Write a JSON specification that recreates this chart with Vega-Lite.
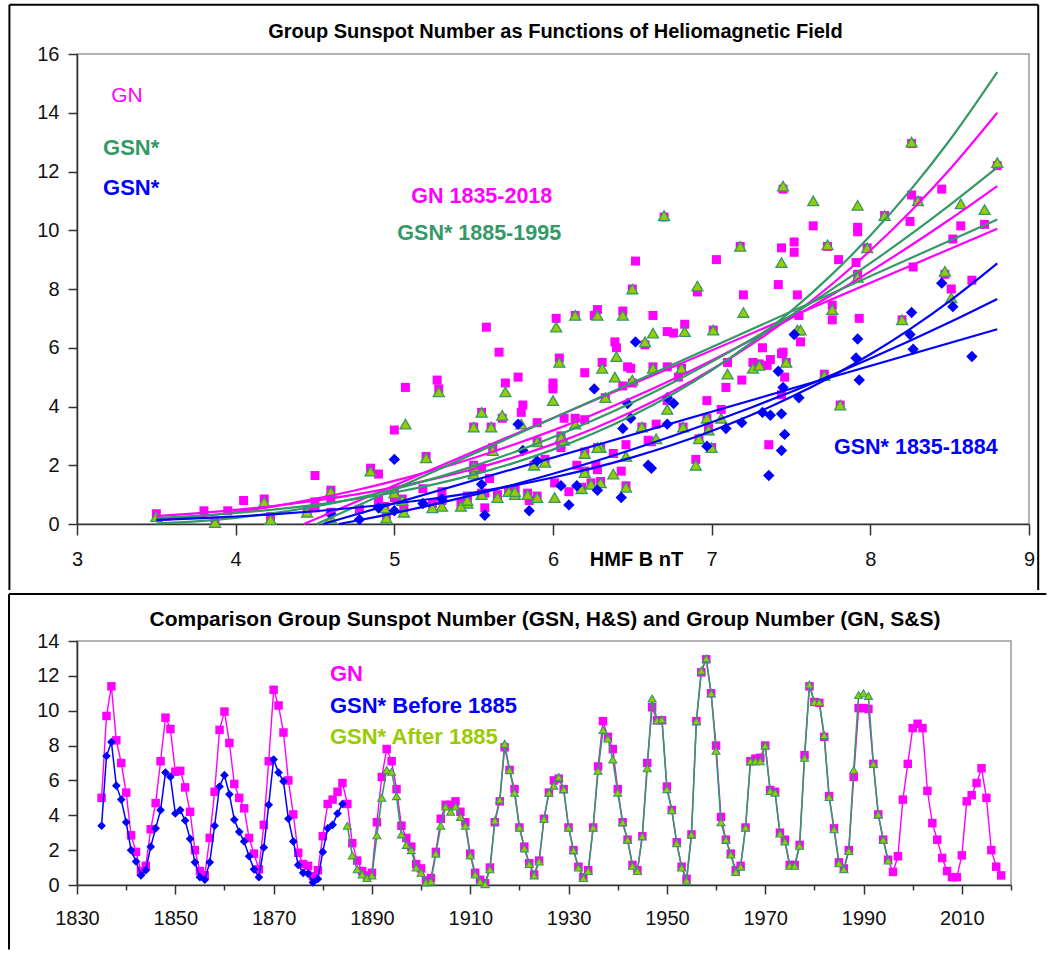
{
  "$schema": "https://vega.github.io/schema/vega-lite/v6.json",
  "padding": {"left": 7, "top": 2, "right": 0, "bottom": 0},
  "spacing": 0,
  "config": {
    "font": "Liberation Sans",
    "view": {"stroke": "#9a9a9a", "strokeWidth": 1.5},
    "axis": {"grid": false, "domainColor": "#333333", "domainWidth": 1.6, "tickColor": "#333333", "tickWidth": 1.5, "labelColor": "#111111", "labelFontSize": 20, "labelFont": "Liberation Sans", "titleColor": "#000000", "titleFont": "Liberation Sans", "labelOverlap": false},
    "text": {"font": "Liberation Sans"}
  },
  "datasets": {
    "years": [
      {"Year":1835,"B":5.78,"GN":5.0,"GSNb":3.4},
      {"Year":1836,"B":8.52,"GN":9.7,"GSNb":7.4},
      {"Year":1837,"B":8.45,"GN":11.4,"GSNb":8.2},
      {"Year":1838,"B":8.64,"GN":8.3,"GSNb":5.7},
      {"Year":1839,"B":7.93,"GN":7.0,"GSNb":4.9},
      {"Year":1840,"B":6.49,"GN":5.3,"GSNb":3.6},
      {"Year":1841,"B":6.6,"GN":2.85,"GSNb":2.0},
      {"Year":1842,"B":5.55,"GN":1.9,"GSNb":1.35},
      {"Year":1843,"B":4.9,"GN":0.8,"GSNb":0.55},
      {"Year":1844,"B":5.3,"GN":1.1,"GSNb":0.85},
      {"Year":1845,"B":5.0,"GN":3.2,"GSNb":2.2},
      {"Year":1846,"B":6.44,"GN":4.7,"GSNb":3.25},
      {"Year":1847,"B":7.55,"GN":7.1,"GSNb":4.3},
      {"Year":1848,"B":7.52,"GN":9.6,"GSNb":6.45},
      {"Year":1849,"B":6.52,"GN":8.95,"GSNb":6.2},
      {"Year":1850,"B":6.76,"GN":6.5,"GSNb":4.1},
      {"Year":1851,"B":6.72,"GN":6.55,"GSNb":4.3},
      {"Year":1852,"B":7.37,"GN":5.6,"GSNb":3.7},
      {"Year":1853,"B":6.97,"GN":4.2,"GSNb":2.65},
      {"Year":1854,"B":6.15,"GN":2.0,"GSNb":1.3},
      {"Year":1855,"B":5.85,"GN":0.8,"GSNb":0.45},
      {"Year":1856,"B":5.57,"GN":0.55,"GSNb":0.3},
      {"Year":1857,"B":6.05,"GN":2.7,"GSNb":1.3},
      {"Year":1858,"B":6.72,"GN":5.35,"GSNb":3.4},
      {"Year":1859,"B":7.91,"GN":8.9,"GSNb":5.65},
      {"Year":1860,"B":7.92,"GN":9.95,"GSNb":6.3},
      {"Year":1861,"B":7.42,"GN":8.15,"GSNb":5.2},
      {"Year":1862,"B":7.44,"GN":5.8,"GSNb":3.75},
      {"Year":1863,"B":7.46,"GN":5.0,"GSNb":3.05},
      {"Year":1864,"B":7.44,"GN":4.4,"GSNb":2.5},
      {"Year":1865,"B":7.36,"GN":2.7,"GSNb":1.65},
      {"Year":1866,"B":6.43,"GN":1.8,"GSNb":0.9},
      {"Year":1867,"B":5.0,"GN":0.9,"GSNb":0.45},
      {"Year":1868,"B":5.9,"GN":3.45,"GSNb":2.15},
      {"Year":1869,"B":6.26,"GN":7.1,"GSNb":4.6},
      {"Year":1870,"B":8.26,"GN":11.2,"GSNb":7.2},
      {"Year":1871,"B":8.25,"GN":10.3,"GSNb":6.45},
      {"Year":1872,"B":8.27,"GN":8.75,"GSNb":5.95},
      {"Year":1873,"B":7.32,"GN":6.0,"GSNb":3.8},
      {"Year":1874,"B":5.81,"GN":4.05,"GSNb":2.5},
      {"Year":1875,"B":6.28,"GN":1.85,"GSNb":1.15},
      {"Year":1876,"B":5.18,"GN":1.2,"GSNb":0.7},
      {"Year":1877,"B":6.1,"GN":1.1,"GSNb":0.65},
      {"Year":1878,"B":4.78,"GN":0.5,"GSNb":0.15},
      {"Year":1879,"B":4.6,"GN":0.85,"GSNb":0.35},
      {"Year":1880,"B":6.62,"GN":2.8,"GSNb":1.9},
      {"Year":1881,"B":7.09,"GN":4.65,"GSNb":3.25},
      {"Year":1882,"B":7.19,"GN":4.9,"GSNb":3.45},
      {"Year":1883,"B":6.47,"GN":5.35,"GSNb":4.1},
      {"Year":1884,"B":7.45,"GN":5.85,"GSNb":4.65},
      {"Year":1885,"B":5.07,"GN":4.65,"GSNa":3.4},
      {"Year":1886,"B":6.38,"GN":2.4,"GSNa":1.7},
      {"Year":1887,"B":6.01,"GN":1.4,"GSNa":0.9},
      {"Year":1888,"B":5.3,"GN":0.8,"GSNa":0.6},
      {"Year":1889,"B":5.06,"GN":0.55,"GSNa":0.4},
      {"Year":1890,"B":5.24,"GN":0.7,"GSNa":0.55},
      {"Year":1891,"B":6.07,"GN":3.6,"GSNa":2.85},
      {"Year":1892,"B":6.39,"GN":6.2,"GSNa":5.0},
      {"Year":1893,"B":7.54,"GN":7.8,"GSNa":6.6},
      {"Year":1894,"B":6.63,"GN":7.1,"GSNa":6.5},
      {"Year":1895,"B":7.1,"GN":5.5,"GSNa":5.1},
      {"Year":1896,"B":6.65,"GN":3.4,"GSNa":2.9},
      {"Year":1897,"B":6.46,"GN":2.7,"GSNa":2.3},
      {"Year":1898,"B":6.9,"GN":2.2,"GSNa":2.0},
      {"Year":1899,"B":5.76,"GN":1.2,"GSNa":1.0},
      {"Year":1900,"B":5.46,"GN":0.95,"GSNa":0.7},
      {"Year":1901,"B":4.22,"GN":0.25,"GSNa":0.15},
      {"Year":1902,"B":4.6,"GN":0.4,"GSNa":0.2},
      {"Year":1903,"B":4.85,"GN":1.9,"GSNa":1.8},
      {"Year":1904,"B":5.8,"GN":3.8,"GSNa":3.4},
      {"Year":1905,"B":5.28,"GN":4.6,"GSNa":4.5},
      {"Year":1906,"B":6.0,"GN":4.6,"GSNa":4.2},
      {"Year":1907,"B":5.7,"GN":4.8,"GSNa":4.5},
      {"Year":1908,"B":6.72,"GN":4.2,"GSNa":3.9},
      {"Year":1909,"B":6.14,"GN":3.6,"GSNa":3.4},
      {"Year":1910,"B":5.5,"GN":1.8,"GSNa":1.7},
      {"Year":1911,"B":5.42,"GN":0.7,"GSNa":0.6},
      {"Year":1912,"B":4.95,"GN":0.3,"GSNa":0.2},
      {"Year":1913,"B":3.87,"GN":0.1,"GSNa":0.05},
      {"Year":1914,"B":5.65,"GN":1.0,"GSNa":0.9},
      {"Year":1915,"B":5.68,"GN":3.6,"GSNa":3.7},
      {"Year":1916,"B":6.5,"GN":4.8,"GSNa":4.9},
      {"Year":1917,"B":6.91,"GN":7.9,"GSNa":8.1},
      {"Year":1918,"B":7.01,"GN":6.6,"GSNa":6.6},
      {"Year":1919,"B":6.31,"GN":5.5,"GSNa":5.3},
      {"Year":1920,"B":5.5,"GN":3.3,"GSNa":3.3},
      {"Year":1921,"B":5.95,"GN":2.2,"GSNa":2.1},
      {"Year":1922,"B":6.18,"GN":1.25,"GSNa":1.2},
      {"Year":1923,"B":4.94,"GN":0.6,"GSNa":0.55},
      {"Year":1924,"B":6.24,"GN":1.4,"GSNa":1.35},
      {"Year":1925,"B":5.55,"GN":3.8,"GSNa":3.8},
      {"Year":1926,"B":6.81,"GN":5.3,"GSNa":5.3},
      {"Year":1927,"B":6.4,"GN":6.0,"GSNa":5.7},
      {"Year":1928,"B":6.58,"GN":6.1,"GSNa":6.2},
      {"Year":1929,"B":7.47,"GN":5.5,"GSNa":5.5},
      {"Year":1930,"B":5.61,"GN":3.3,"GSNa":3.3},
      {"Year":1931,"B":5.88,"GN":2.0,"GSNa":2.0},
      {"Year":1932,"B":5.84,"GN":1.05,"GSNa":1.0},
      {"Year":1933,"B":4.45,"GN":0.45,"GSNa":0.4},
      {"Year":1934,"B":5.46,"GN":0.85,"GSNa":0.8},
      {"Year":1935,"B":6.82,"GN":3.3,"GSNa":3.3},
      {"Year":1936,"B":6.83,"GN":6.8,"GSNa":6.55},
      {"Year":1937,"B":7.44,"GN":9.4,"GSNa":8.9},
      {"Year":1938,"B":7.92,"GN":8.5,"GSNa":8.4},
      {"Year":1939,"B":7.2,"GN":7.8,"GSNa":7.2},
      {"Year":1940,"B":7.26,"GN":5.5,"GSNa":5.3},
      {"Year":1941,"B":6.97,"GN":3.6,"GSNa":3.6},
      {"Year":1942,"B":6.3,"GN":2.6,"GSNa":2.6},
      {"Year":1943,"B":5.72,"GN":1.15,"GSNa":1.1},
      {"Year":1944,"B":5.05,"GN":0.85,"GSNa":0.8},
      {"Year":1945,"B":5.9,"GN":2.8,"GSNa":2.8},
      {"Year":1946,"B":6.02,"GN":7.0,"GSNa":6.7},
      {"Year":1947,"B":8.72,"GN":10.2,"GSNa":10.7},
      {"Year":1948,"B":7.18,"GN":9.45,"GSNa":9.45},
      {"Year":1949,"B":7.73,"GN":9.45,"GSNa":9.5},
      {"Year":1950,"B":6.04,"GN":5.65,"GSNa":5.5},
      {"Year":1951,"B":6.33,"GN":4.3,"GSNa":4.3},
      {"Year":1952,"B":6.2,"GN":2.45,"GSNa":2.4},
      {"Year":1953,"B":5.55,"GN":1.05,"GSNa":1.0},
      {"Year":1954,"B":3.5,"GN":0.35,"GSNa":0.25},
      {"Year":1955,"B":6.92,"GN":2.9,"GSNa":2.9},
      {"Year":1956,"B":7.98,"GN":9.4,"GSNa":9.4},
      {"Year":1957,"B":8.8,"GN":12.2,"GSNa":12.3},
      {"Year":1958,"B":8.26,"GN":12.95,"GSNa":13.0},
      {"Year":1959,"B":8.3,"GN":11.0,"GSNa":11.0},
      {"Year":1960,"B":8.51,"GN":8.0,"GSNa":7.7},
      {"Year":1961,"B":7.06,"GN":3.9,"GSNa":3.6},
      {"Year":1962,"B":6.28,"GN":2.6,"GSNa":2.6},
      {"Year":1963,"B":6.2,"GN":1.8,"GSNa":1.75},
      {"Year":1964,"B":4.18,"GN":0.85,"GSNa":0.75},
      {"Year":1965,"B":5.0,"GN":1.1,"GSNa":1.05},
      {"Year":1966,"B":6.56,"GN":3.3,"GSNa":3.3},
      {"Year":1967,"B":6.14,"GN":7.1,"GSNa":7.1},
      {"Year":1968,"B":6.44,"GN":7.25,"GSNa":7.1},
      {"Year":1969,"B":6.28,"GN":7.3,"GSNa":7.1},
      {"Year":1970,"B":6.5,"GN":8.0,"GSNa":8.0},
      {"Year":1971,"B":7.3,"GN":5.45,"GSNa":5.4},
      {"Year":1972,"B":6.63,"GN":5.35,"GSNa":5.3},
      {"Year":1973,"B":6.05,"GN":3.0,"GSNa":2.95},
      {"Year":1974,"B":5.62,"GN":2.6,"GSNa":2.5},
      {"Year":1975,"B":5.76,"GN":1.15,"GSNa":1.1},
      {"Year":1976,"B":4.6,"GN":1.15,"GSNa":1.1},
      {"Year":1977,"B":5.2,"GN":2.3,"GSNa":2.25},
      {"Year":1978,"B":7.76,"GN":7.45,"GSNa":7.3},
      {"Year":1979,"B":7.45,"GN":11.4,"GSNa":11.5},
      {"Year":1980,"B":8.09,"GN":10.5,"GSNa":10.5},
      {"Year":1981,"B":6.7,"GN":10.45,"GSNa":10.5},
      {"Year":1982,"B":8.47,"GN":8.5,"GSNa":8.6},
      {"Year":1983,"B":7.71,"GN":5.1,"GSNa":5.05},
      {"Year":1984,"B":6.98,"GN":3.25,"GSNa":3.2},
      {"Year":1985,"B":6.46,"GN":1.3,"GSNa":1.25},
      {"Year":1986,"B":5.9,"GN":0.95,"GSNa":0.9},
      {"Year":1987,"B":5.5,"GN":2.0,"GSNa":1.95},
      {"Year":1988,"B":7.56,"GN":6.2,"GSNa":6.6},
      {"Year":1989,"B":8.57,"GN":10.15,"GSNa":10.9},
      {"Year":1990,"B":7.64,"GN":10.15,"GSNa":11.0},
      {"Year":1991,"B":7.92,"GN":10.1,"GSNa":10.85},
      {"Year":1992,"B":8.2,"GN":6.95,"GSNa":6.95},
      {"Year":1993,"B":7.81,"GN":4.05,"GSNa":4.05},
      {"Year":1994,"B":7.0,"GN":2.6,"GSNa":2.6},
      {"Year":1995,"B":6.3,"GN":1.45,"GSNa":1.4},
      {"Year":1996,"B":4.5,"GN":0.75},
      {"Year":1997,"B":4.5,"GN":1.65},
      {"Year":1998,"B":5.27,"GN":4.9},
      {"Year":1999,"B":7.76,"GN":6.95},
      {"Year":2000,"B":7.03,"GN":9.0},
      {"Year":2001,"B":7.52,"GN":9.25},
      {"Year":2002,"B":7.8,"GN":9.0},
      {"Year":2003,"B":7.35,"GN":5.4},
      {"Year":2004,"B":6.2,"GN":3.55},
      {"Year":2005,"B":6.05,"GN":2.6},
      {"Year":2006,"B":5.6,"GN":1.55},
      {"Year":2007,"B":4.05,"GN":0.8},
      {"Year":2008,"B":3.8,"GN":0.45},
      {"Year":2009,"B":3.95,"GN":0.45},
      {"Year":2010,"B":4.9,"GN":1.7},
      {"Year":2011,"B":6.0,"GN":4.8},
      {"Year":2012,"B":6.2,"GN":5.15},
      {"Year":2013,"B":5.66,"GN":5.85},
      {"Year":2014,"B":5.58,"GN":6.7},
      {"Year":2015,"B":6.79,"GN":5.0},
      {"Year":2016,"B":6.27,"GN":2.0},
      {"Year":2017,"B":5.57,"GN":1.05},
      {"Year":2018,"B":4.5,"GN":0.55}
    ],
    "fits": [
      {"fit":"GN power","series":"GN","B":3.5,"value":0.271},{"fit":"GN power","series":"GN","B":3.75,"value":0.363},{"fit":"GN power","series":"GN","B":4,"value":0.479},{"fit":"GN power","series":"GN","B":4.25,"value":0.621},{"fit":"GN power","series":"GN","B":4.5,"value":0.793},{"fit":"GN power","series":"GN","B":4.75,"value":1.0},{"fit":"GN power","series":"GN","B":5,"value":1.245},{"fit":"GN power","series":"GN","B":5.25,"value":1.534},{"fit":"GN power","series":"GN","B":5.5,"value":1.873},{"fit":"GN power","series":"GN","B":5.75,"value":2.265},{"fit":"GN power","series":"GN","B":6,"value":2.718},{"fit":"GN power","series":"GN","B":6.25,"value":3.237},{"fit":"GN power","series":"GN","B":6.5,"value":3.828},{"fit":"GN power","series":"GN","B":6.75,"value":4.499},{"fit":"GN power","series":"GN","B":7,"value":5.258},{"fit":"GN power","series":"GN","B":7.25,"value":6.109},{"fit":"GN power","series":"GN","B":7.5,"value":7.063},{"fit":"GN power","series":"GN","B":7.75,"value":8.127},{"fit":"GN power","series":"GN","B":8,"value":9.31},{"fit":"GN power","series":"GN","B":8.25,"value":10.621},{"fit":"GN power","series":"GN","B":8.5,"value":12.069},{"fit":"GN power","series":"GN","B":8.8,"value":14.0},
      {"fit":"GN poly","series":"GN","B":3.5,"value":0.124},{"fit":"GN poly","series":"GN","B":3.75,"value":0.245},{"fit":"GN poly","series":"GN","B":4,"value":0.408},{"fit":"GN poly","series":"GN","B":4.25,"value":0.611},{"fit":"GN poly","series":"GN","B":4.5,"value":0.856},{"fit":"GN poly","series":"GN","B":4.75,"value":1.142},{"fit":"GN poly","series":"GN","B":5,"value":1.469},{"fit":"GN poly","series":"GN","B":5.25,"value":1.837},{"fit":"GN poly","series":"GN","B":5.5,"value":2.246},{"fit":"GN poly","series":"GN","B":5.75,"value":2.697},{"fit":"GN poly","series":"GN","B":6,"value":3.188},{"fit":"GN poly","series":"GN","B":6.25,"value":3.721},{"fit":"GN poly","series":"GN","B":6.5,"value":4.295},{"fit":"GN poly","series":"GN","B":6.75,"value":4.91},{"fit":"GN poly","series":"GN","B":7,"value":5.566},{"fit":"GN poly","series":"GN","B":7.25,"value":6.263},{"fit":"GN poly","series":"GN","B":7.5,"value":7.001},{"fit":"GN poly","series":"GN","B":7.75,"value":7.781},{"fit":"GN poly","series":"GN","B":8,"value":8.601},{"fit":"GN poly","series":"GN","B":8.25,"value":9.463},{"fit":"GN poly","series":"GN","B":8.5,"value":10.365},{"fit":"GN poly","series":"GN","B":8.8,"value":11.503},
      {"fit":"GN linear","series":"GN","B":4.43,"value":0},{"fit":"GN linear","series":"GN","B":8.8,"value":10.05},
      {"fit":"GSNa power","series":"GSNa","B":3.5,"value":0.2},{"fit":"GSNa power","series":"GSNa","B":3.75,"value":0.277},{"fit":"GSNa power","series":"GSNa","B":4,"value":0.375},{"fit":"GSNa power","series":"GSNa","B":4.25,"value":0.499},{"fit":"GSNa power","series":"GSNa","B":4.5,"value":0.653},{"fit":"GSNa power","series":"GSNa","B":4.75,"value":0.843},{"fit":"GSNa power","series":"GSNa","B":5,"value":1.073},{"fit":"GSNa power","series":"GSNa","B":5.25,"value":1.35},{"fit":"GSNa power","series":"GSNa","B":5.5,"value":1.681},{"fit":"GSNa power","series":"GSNa","B":5.75,"value":2.072},{"fit":"GSNa power","series":"GSNa","B":6,"value":2.532},{"fit":"GSNa power","series":"GSNa","B":6.25,"value":3.069},{"fit":"GSNa power","series":"GSNa","B":6.5,"value":3.692},{"fit":"GSNa power","series":"GSNa","B":6.75,"value":4.411},{"fit":"GSNa power","series":"GSNa","B":7,"value":5.235},{"fit":"GSNa power","series":"GSNa","B":7.25,"value":6.175},{"fit":"GSNa power","series":"GSNa","B":7.5,"value":7.244},{"fit":"GSNa power","series":"GSNa","B":7.75,"value":8.454},{"fit":"GSNa power","series":"GSNa","B":8,"value":9.818},{"fit":"GSNa power","series":"GSNa","B":8.25,"value":11.348},{"fit":"GSNa power","series":"GSNa","B":8.5,"value":13.063},{"fit":"GSNa power","series":"GSNa","B":8.8,"value":15.38},
      {"fit":"GSNa poly","series":"GSNa","B":3.5,"value":0.02},{"fit":"GSNa poly","series":"GSNa","B":3.75,"value":0.09},{"fit":"GSNa poly","series":"GSNa","B":4,"value":0.21},{"fit":"GSNa poly","series":"GSNa","B":4.25,"value":0.379},{"fit":"GSNa poly","series":"GSNa","B":4.5,"value":0.597},{"fit":"GSNa poly","series":"GSNa","B":4.75,"value":0.866},{"fit":"GSNa poly","series":"GSNa","B":5,"value":1.184},{"fit":"GSNa poly","series":"GSNa","B":5.25,"value":1.552},{"fit":"GSNa poly","series":"GSNa","B":5.5,"value":1.97},{"fit":"GSNa poly","series":"GSNa","B":5.75,"value":2.437},{"fit":"GSNa poly","series":"GSNa","B":6,"value":2.954},{"fit":"GSNa poly","series":"GSNa","B":6.25,"value":3.521},{"fit":"GSNa poly","series":"GSNa","B":6.5,"value":4.137},{"fit":"GSNa poly","series":"GSNa","B":6.75,"value":4.803},{"fit":"GSNa poly","series":"GSNa","B":7,"value":5.519},{"fit":"GSNa poly","series":"GSNa","B":7.25,"value":6.284},{"fit":"GSNa poly","series":"GSNa","B":7.5,"value":7.099},{"fit":"GSNa poly","series":"GSNa","B":7.75,"value":7.964},{"fit":"GSNa poly","series":"GSNa","B":8,"value":8.878},{"fit":"GSNa poly","series":"GSNa","B":8.25,"value":9.842},{"fit":"GSNa poly","series":"GSNa","B":8.5,"value":10.856},{"fit":"GSNa poly","series":"GSNa","B":8.8,"value":12.138},
      {"fit":"GSNa linear","series":"GSNa","B":4.51,"value":0},{"fit":"GSNa linear","series":"GSNa","B":8.8,"value":10.37},
      {"fit":"GSNb power","series":"GSNb","B":3.5,"value":0.14},{"fit":"GSNb power","series":"GSNb","B":3.75,"value":0.191},{"fit":"GSNb power","series":"GSNb","B":4,"value":0.255},{"fit":"GSNb power","series":"GSNb","B":4.25,"value":0.335},{"fit":"GSNb power","series":"GSNb","B":4.5,"value":0.434},{"fit":"GSNb power","series":"GSNb","B":4.75,"value":0.553},{"fit":"GSNb power","series":"GSNb","B":5,"value":0.697},{"fit":"GSNb power","series":"GSNb","B":5.25,"value":0.868},{"fit":"GSNb power","series":"GSNb","B":5.5,"value":1.07},{"fit":"GSNb power","series":"GSNb","B":5.75,"value":1.307},{"fit":"GSNb power","series":"GSNb","B":6,"value":1.583},{"fit":"GSNb power","series":"GSNb","B":6.25,"value":1.902},{"fit":"GSNb power","series":"GSNb","B":6.5,"value":2.269},{"fit":"GSNb power","series":"GSNb","B":6.75,"value":2.689},{"fit":"GSNb power","series":"GSNb","B":7,"value":3.167},{"fit":"GSNb power","series":"GSNb","B":7.25,"value":3.709},{"fit":"GSNb power","series":"GSNb","B":7.5,"value":4.321},{"fit":"GSNb power","series":"GSNb","B":7.75,"value":5.007},{"fit":"GSNb power","series":"GSNb","B":8,"value":5.777},{"fit":"GSNb power","series":"GSNb","B":8.25,"value":6.634},{"fit":"GSNb power","series":"GSNb","B":8.5,"value":7.588},{"fit":"GSNb power","series":"GSNb","B":8.8,"value":8.87},
      {"fit":"GSNb poly","series":"GSNb","B":4.65,"value":0},{"fit":"GSNb poly","series":"GSNb","B":4.75,"value":0.101},{"fit":"GSNb poly","series":"GSNb","B":5,"value":0.371},{"fit":"GSNb poly","series":"GSNb","B":5.25,"value":0.668},{"fit":"GSNb poly","series":"GSNb","B":5.5,"value":0.99},{"fit":"GSNb poly","series":"GSNb","B":5.75,"value":1.338},{"fit":"GSNb poly","series":"GSNb","B":6,"value":1.711},{"fit":"GSNb poly","series":"GSNb","B":6.25,"value":2.111},{"fit":"GSNb poly","series":"GSNb","B":6.5,"value":2.536},{"fit":"GSNb poly","series":"GSNb","B":6.75,"value":2.988},{"fit":"GSNb poly","series":"GSNb","B":7,"value":3.465},{"fit":"GSNb poly","series":"GSNb","B":7.25,"value":3.967},{"fit":"GSNb poly","series":"GSNb","B":7.5,"value":4.496},{"fit":"GSNb poly","series":"GSNb","B":7.75,"value":5.051},{"fit":"GSNb poly","series":"GSNb","B":8,"value":5.631},{"fit":"GSNb poly","series":"GSNb","B":8.25,"value":6.237},{"fit":"GSNb poly","series":"GSNb","B":8.5,"value":6.868},{"fit":"GSNb poly","series":"GSNb","B":8.8,"value":7.661},
      {"fit":"GSNb linear","series":"GSNb","B":4.55,"value":0},{"fit":"GSNb linear","series":"GSNb","B":8.8,"value":6.63}
    ]
  },
  "vconcat": [
    {
      "width": 952,
      "height": 470,
      "layer": [
        {
          "data": {"name": "years"},
          "mark": {"type": "point", "shape": "square", "filled": true, "size": 81, "color": "#FF00FF", "opacity": 1},
          "encoding": {
            "x": {
              "field": "B", "type": "quantitative",
              "scale": {"domain": [3, 9], "nice": false, "zero": false},
              "axis": {
                "values": [3, 3.5, 4, 4.5, 5, 5.5, 6, 6.5, 7, 7.5, 8, 8.5, 9],
                "format": "d",
                "labelExpr": "datum.value % 1 === 0 ? datum.label : ''",
                "tickSize": {"condition": {"test": "datum.value % 1 !== 0", "value": 5}, "value": 11},
                "labelPadding": 14,
                "labelFlush": false,
                "labelOverlap": false,
                "title": "HMF B nT",
                "titleFontSize": 20,
                "titleFontWeight": "bold",
                "titleX": 559,
                "titleY": 35,
                "titleBaseline": "middle",
                "titleAlign": "center"
              }
            },
            "y": {
              "field": "GN", "type": "quantitative",
              "scale": {"domain": [0, 16], "nice": false},
              "axis": {"values": [0, 2, 4, 6, 8, 10, 12, 14, 16], "tickCount": 9, "labelOverlap": false, "tickSize": 9, "labelPadding": 9, "title": null}
            }
          }
        },
        {
          "data": {"name": "years"},
          "transform": [{"filter": "isValid(datum.GSNa)"}],
          "mark": {"type": "point", "shape": "triangle-up", "filled": true, "size": 121, "fill": "#99CC00", "stroke": "#339966", "strokeWidth": 1.3, "opacity": 1},
          "encoding": {
            "x": {"field": "B", "type": "quantitative"},
            "y": {"field": "GSNa", "type": "quantitative"}
          }
        },
        {
          "data": {"name": "years"},
          "transform": [{"filter": "isValid(datum.GSNb)"}],
          "mark": {"type": "point", "shape": "diamond", "filled": true, "size": 130, "color": "#0000FF", "opacity": 1},
          "encoding": {
            "x": {"field": "B", "type": "quantitative"},
            "y": {"field": "GSNb", "type": "quantitative"}
          }
        },
        {
          "data": {"name": "fits"},
          "mark": {"type": "line", "strokeWidth": 2.2, "interpolate": "monotone"},
          "encoding": {
            "x": {"field": "B", "type": "quantitative"},
            "y": {"field": "value", "type": "quantitative"},
            "detail": {"field": "fit"},
            "color": {"field": "series", "type": "nominal", "legend": null,
              "scale": {"domain": ["GN", "GSNa", "GSNb"], "range": ["#FF00FF", "#339966", "#0000FF"]}}
          }
        },
        {
          "data": {"values": [{}]},
          "mark": {"type": "rule", "color": "#000000", "strokeWidth": 2},
          "encoding": {
            "x": {"datum": 2.574, "type": "quantitative"},
            "x2": {"datum": 9.058},
            "y": {"datum": 17.678, "type": "quantitative"}
          }
        },
        {
          "data": {"values": [{}]},
          "mark": {"type": "rule", "color": "#000000", "strokeWidth": 2},
          "encoding": {
            "x": {"datum": 2.574, "type": "quantitative"},
            "y": {"datum": 17.678, "type": "quantitative"},
            "y2": {"datum": -2.25}
          }
        },
        {
          "data": {"values": [{}]},
          "mark": {"type": "rule", "color": "#000000", "strokeWidth": 2},
          "encoding": {
            "x": {"datum": 9.058, "type": "quantitative"},
            "y": {"datum": 17.678, "type": "quantitative"},
            "y2": {"datum": -2.25}
          }
        },
        {
          "data": {"values": [{}]},
          "mark": {"type": "text", "text": "Group Sunspot Number as Functions of Heliomagnetic Field", "fontSize": 20, "fontWeight": "bold", "color": "#000000", "align": "center", "baseline": "middle"},
          "encoding": {"x": {"datum": 6.015, "type": "quantitative"}, "y": {"datum": 16.76, "type": "quantitative"}}
        },
        {
          "data": {"values": [{}]},
          "mark": {"type": "text", "text": "GN", "fontSize": 21, "color": "#FF00FF", "align": "left", "baseline": "middle"},
          "encoding": {"x": {"datum": 3.216, "type": "quantitative"}, "y": {"datum": 14.56, "type": "quantitative"}}
        },
        {
          "data": {"values": [{}]},
          "mark": {"type": "text", "text": "GSN*", "fontSize": 22, "fontWeight": "bold", "color": "#339966", "align": "left", "baseline": "middle"},
          "encoding": {"x": {"datum": 3.164, "type": "quantitative"}, "y": {"datum": 12.81, "type": "quantitative"}}
        },
        {
          "data": {"values": [{}]},
          "mark": {"type": "text", "text": "GSN*", "fontSize": 22, "fontWeight": "bold", "color": "#0000FF", "align": "left", "baseline": "middle"},
          "encoding": {"x": {"datum": 3.164, "type": "quantitative"}, "y": {"datum": 11.45, "type": "quantitative"}}
        },
        {
          "data": {"values": [{}]},
          "mark": {"type": "text", "text": "GN 1835-2018", "fontSize": 21.5, "fontWeight": "bold", "color": "#FF00FF", "align": "center", "baseline": "middle"},
          "encoding": {"x": {"datum": 5.551, "type": "quantitative"}, "y": {"datum": 11.12, "type": "quantitative"}}
        },
        {
          "data": {"values": [{}]},
          "mark": {"type": "text", "text": "GSN* 1885-1995", "fontSize": 21.5, "fontWeight": "bold", "color": "#339966", "align": "center", "baseline": "middle"},
          "encoding": {"x": {"datum": 5.535, "type": "quantitative"}, "y": {"datum": 9.88, "type": "quantitative"}}
        },
        {
          "data": {"values": [{}]},
          "mark": {"type": "text", "text": "GSN* 1835-1884", "fontSize": 21.5, "fontWeight": "bold", "color": "#0000FF", "align": "right", "baseline": "middle"},
          "encoding": {"x": {"datum": 8.803, "type": "quantitative"}, "y": {"datum": 2.6, "type": "quantitative"}}
        }
      ]
    },
    {
      "width": 934,
      "height": 244,
      "layer": [
        {
          "data": {"name": "years"},
          "mark": {"type": "line", "color": "#FF00FF", "strokeWidth": 1.4},
          "encoding": {
            "x": {
              "field": "Year", "type": "quantitative",
              "scale": {"domain": [1830, 2020], "nice": false, "zero": false},
              "axis": {
                "values": [1830, 1840, 1850, 1860, 1870, 1880, 1890, 1900, 1910, 1920, 1930, 1940, 1950, 1960, 1970, 1980, 1990, 2000, 2010, 2020],
                "format": "d",
                "labelExpr": "(datum.value - 1830) % 20 === 0 && datum.value < 2020 ? datum.label : ''",
                "tickSize": {"condition": {"test": "(datum.value - 1830) % 20 !== 0", "value": 5}, "value": 9},
                "labelPadding": 14,
                "labelFlush": false,
                "labelOverlap": false,
                "title": null
              }
            },
            "y": {
              "field": "GN", "type": "quantitative",
              "scale": {"domain": [0, 14], "nice": false},
              "axis": {"values": [0, 2, 4, 6, 8, 10, 12, 14], "tickCount": 8, "labelOverlap": false, "tickSize": 9, "labelPadding": 9, "title": null}
            }
          }
        },
        {
          "data": {"name": "years"},
          "mark": {"type": "point", "shape": "square", "filled": true, "size": 72, "color": "#FF00FF", "opacity": 1},
          "encoding": {
            "x": {"field": "Year", "type": "quantitative"},
            "y": {"field": "GN", "type": "quantitative"}
          }
        },
        {
          "data": {"name": "years"},
          "transform": [{"filter": "isValid(datum.GSNb)"}],
          "mark": {"type": "line", "color": "#0000FF", "strokeWidth": 1.5},
          "encoding": {
            "x": {"field": "Year", "type": "quantitative"},
            "y": {"field": "GSNb", "type": "quantitative"}
          }
        },
        {
          "data": {"name": "years"},
          "transform": [{"filter": "isValid(datum.GSNb)"}],
          "mark": {"type": "point", "shape": "diamond", "filled": true, "size": 75, "color": "#0000FF", "opacity": 1},
          "encoding": {
            "x": {"field": "Year", "type": "quantitative"},
            "y": {"field": "GSNb", "type": "quantitative"}
          }
        },
        {
          "data": {"name": "years"},
          "transform": [{"filter": "isValid(datum.GSNa)"}],
          "mark": {"type": "line", "color": "#339966", "strokeWidth": 1.6},
          "encoding": {
            "x": {"field": "Year", "type": "quantitative"},
            "y": {"field": "GSNa", "type": "quantitative"}
          }
        },
        {
          "data": {"name": "years"},
          "transform": [{"filter": "isValid(datum.GSNa)"}],
          "mark": {"type": "point", "shape": "triangle-up", "filled": true, "size": 64, "fill": "#99CC00", "stroke": "#339966", "strokeWidth": 1.1, "opacity": 1},
          "encoding": {
            "x": {"field": "Year", "type": "quantitative"},
            "y": {"field": "GSNa", "type": "quantitative"}
          }
        },
        {
          "data": {"values": [{}]},
          "mark": {"type": "rule", "color": "#000000", "strokeWidth": 2},
          "encoding": {
            "x": {"datum": 1816.17, "type": "quantitative"},
            "x2": {"datum": 2027.2},
            "y": {"datum": 16.7, "type": "quantitative"}
          }
        },
        {
          "data": {"values": [{}]},
          "mark": {"type": "rule", "color": "#000000", "strokeWidth": 2},
          "encoding": {
            "x": {"datum": 1816.17, "type": "quantitative"},
            "y": {"datum": 16.7, "type": "quantitative"},
            "y2": {"datum": -3.7}
          }
        },
        {
          "data": {"values": [{}]},
          "mark": {"type": "text", "text": "Comparison Group Sunspot Number (GSN, H&S) and Group Number (GN, S&S)", "fontSize": 21, "fontWeight": "bold", "color": "#000000", "align": "center", "baseline": "middle"},
          "encoding": {"x": {"datum": 1925.2, "type": "quantitative"}, "y": {"datum": 15.2, "type": "quantitative"}}
        },
        {
          "data": {"values": [{}]},
          "mark": {"type": "text", "text": "GN", "fontSize": 22, "fontWeight": "bold", "color": "#FF00FF", "align": "left", "baseline": "middle"},
          "encoding": {"x": {"datum": 1881.45, "type": "quantitative"}, "y": {"datum": 12.11, "type": "quantitative"}}
        },
        {
          "data": {"values": [{}]},
          "mark": {"type": "text", "text": "GSN* Before 1885", "fontSize": 22, "fontWeight": "bold", "color": "#0000FF", "align": "left", "baseline": "middle"},
          "encoding": {"x": {"datum": 1881.45, "type": "quantitative"}, "y": {"datum": 10.27, "type": "quantitative"}}
        },
        {
          "data": {"values": [{}]},
          "mark": {"type": "text", "text": "GSN* After 1885", "fontSize": 22, "fontWeight": "bold", "color": "#99CC00", "align": "left", "baseline": "middle"},
          "encoding": {"x": {"datum": 1881.45, "type": "quantitative"}, "y": {"datum": 8.49, "type": "quantitative"}}
        }
      ]
    }
  ]
}
